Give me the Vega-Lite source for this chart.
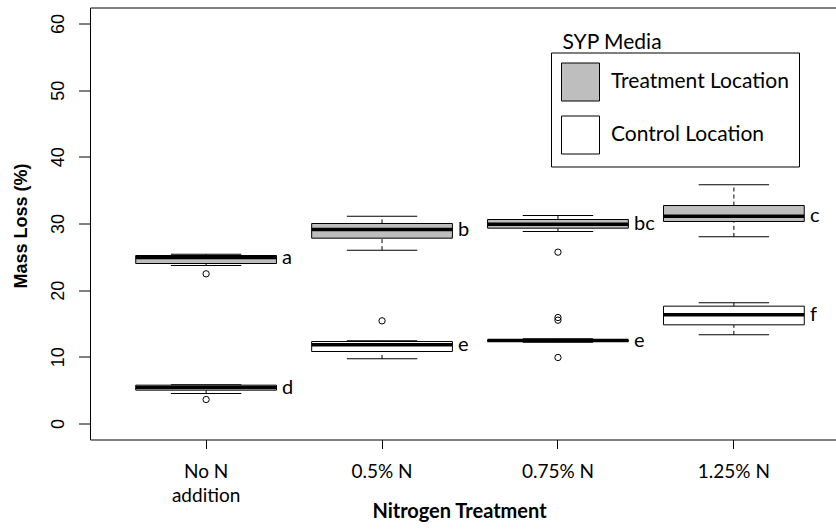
{
  "$schema": "https://vega.github.io/schema/vega-lite/v6.json",
  "autosize": "none",
  "width": 746,
  "height": 432,
  "padding": {"left": 90, "top": 7.5, "right": 0, "bottom": 89.5},
  "background": "white",
  "config": {
    "view": {"stroke": null},
    "axis": {"grid": false, "domainColor": "black", "tickColor": "black", "labelColor": "black", "titleColor": "black"}
  },
  "title": {
    "text": "SYP Media",
    "anchor": "start",
    "frame": "group",
    "orient": "top",
    "offset": 0,
    "dx": 472.5,
    "dy": 62.5,
    "baseline": "alphabetic",
    "font": "Lato",
    "fontSize": 21,
    "fontWeight": "normal",
    "color": "black"
  },
  "datasets": {
    "boxes": [
      {"treatment": "No N addition", "media": "Treatment Location", "lower": 23.7, "q1": 24.0, "median": 24.9, "q3": 25.2, "upper": 25.4, "letter": "a"},
      {"treatment": "0.5% N", "media": "Treatment Location", "lower": 26.0, "q1": 27.8, "median": 29.1, "q3": 30.0, "upper": 31.1, "letter": "b"},
      {"treatment": "0.75% N", "media": "Treatment Location", "lower": 28.8, "q1": 29.3, "median": 29.9, "q3": 30.6, "upper": 31.2, "letter": "bc"},
      {"treatment": "1.25% N", "media": "Treatment Location", "lower": 28.0, "q1": 30.3, "median": 31.1, "q3": 32.7, "upper": 35.8, "letter": "c"},
      {"treatment": "No N addition", "media": "Control Location", "lower": 4.5, "q1": 5.0, "median": 5.4, "q3": 5.75, "upper": 5.8, "letter": "d"},
      {"treatment": "0.5% N", "media": "Control Location", "lower": 9.7, "q1": 10.8, "median": 11.8, "q3": 12.3, "upper": 12.4, "letter": "e"},
      {"treatment": "0.75% N", "media": "Control Location", "lower": 12.2, "q1": 12.3, "median": 12.45, "q3": 12.55, "upper": 12.7, "letter": "e"},
      {"treatment": "1.25% N", "media": "Control Location", "lower": 13.3, "q1": 14.8, "median": 16.3, "q3": 17.6, "upper": 18.1, "letter": "f"}
    ],
    "outliers": [
      {"treatment": "No N addition", "media": "Treatment Location", "value": 22.45},
      {"treatment": "No N addition", "media": "Control Location", "value": 3.6},
      {"treatment": "0.5% N", "media": "Control Location", "value": 15.4},
      {"treatment": "0.75% N", "media": "Treatment Location", "value": 25.7},
      {"treatment": "0.75% N", "media": "Control Location", "value": 15.5},
      {"treatment": "0.75% N", "media": "Control Location", "value": 15.9},
      {"treatment": "0.75% N", "media": "Control Location", "value": 9.9}
    ]
  },
  "resolve": {"axis": {"x": "independent"}},
  "encoding": {
    "x": {
      "field": "treatment",
      "type": "nominal",
      "scale": {"domain": ["No N addition", "0.5% N", "0.75% N", "1.25% N"], "range": [0, 760], "paddingInner": 0.2, "paddingOuter": 0.26},
      "axis": null
    }
  },
  "layer": [
    {
      "data": {"name": "boxes"},
      "mark": {"type": "rule", "color": "black", "strokeWidth": 1, "strokeDash": [4, 3]},
      "encoding": {
        "x": {
          "field": "treatment",
          "type": "nominal",
          "axis": {"orient": "top", "labels": false, "ticks": false, "title": null, "domain": true, "domainColor": "black", "domainWidth": 1}
        },
        "y": {
          "field": "q3",
          "type": "quantitative",
          "scale": {"domain": [-2.4, 62.4], "nice": false, "zero": false},
          "axis": {
            "title": "Mass Loss (%)",
            "values": [0, 10, 20, 30, 40, 50, 60],
            "labelAngle": -90,
            "labelAlign": "center",
            "labelBaseline": "alphabetic",
            "labelFont": "Liberation Sans",
            "labelFontSize": 18,
            "labelPadding": 15,
            "tickSize": 11.5,
            "tickWidth": 1,
            "domainWidth": 1,
            "titleFont": "Liberation Sans",
            "titleFontSize": 18,
            "titleFontWeight": "bold",
            "titleAngle": 270,
            "titleAlign": "center",
            "titleBaseline": "alphabetic",
            "titleX": -63.5,
            "titleY": 218
          }
        },
        "y2": {"field": "upper"}
      }
    },
    {
      "data": {"name": "boxes"},
      "mark": {"type": "rule", "color": "black", "strokeWidth": 1, "strokeDash": [4, 3]},
      "encoding": {
        "y": {"field": "lower", "type": "quantitative"},
        "y2": {"field": "q1"}
      }
    },
    {
      "data": {"name": "boxes"},
      "mark": {"type": "tick", "color": "black", "size": 70.4, "thickness": 1, "opacity": 1},
      "encoding": {
        "y": {"field": "upper", "type": "quantitative"}
      }
    },
    {
      "data": {"name": "boxes"},
      "mark": {"type": "tick", "color": "black", "size": 70.4, "thickness": 1, "opacity": 1},
      "encoding": {
        "y": {"field": "lower", "type": "quantitative"}
      }
    },
    {
      "data": {"name": "boxes"},
      "mark": {"type": "bar", "stroke": "black", "strokeWidth": 1, "opacity": 1},
      "encoding": {
        "x": {
          "field": "treatment",
          "type": "nominal",
          "axis": {
            "orient": "bottom",
            "title": "Nitrogen Treatment",
            "labelAngle": 0,
            "labelExpr": "datum.label == 'No N addition' ? ['No N', 'addition'] : datum.label",
            "labelFont": "Lato",
            "labelFontSize": 19,
            "labelBaseline": "alphabetic",
            "labelLineHeight": 24,
            "labelPadding": 29,
            "tickSize": 9,
            "tickWidth": 1,
            "domainWidth": 1,
            "titleFont": "Lato",
            "titleFontSize": 20,
            "titleFontWeight": "bold",
            "titleX": 369,
            "titleY": 77.5,
            "titleAlign": "center",
            "titleBaseline": "alphabetic"
          }
        },
        "y": {"field": "q1", "type": "quantitative"},
        "y2": {"field": "q3"},
        "fill": {
          "field": "media",
          "type": "nominal",
          "scale": {"domain": ["Treatment Location", "Control Location"], "range": ["#bebebe", "#ffffff"]},
          "legend": {
            "orient": "none",
            "legendX": 461,
            "legendY": 45,
            "title": null,
            "symbolType": "square",
            "symbolSize": 1444,
            "symbolStrokeColor": "black",
            "symbolStrokeWidth": 1,
            "symbolOpacity": 1,
            "labelFont": "Lato",
            "labelFontSize": 21,
            "labelColor": "black",
            "labelOffset": 11,
            "labelLimit": 400,
            "rowPadding": 10,
            "padding": 10,
            "strokeColor": "black",
            "fillColor": "white"
          }
        }
      }
    },
    {
      "data": {"name": "boxes"},
      "mark": {"type": "tick", "color": "black", "size": 140.7, "thickness": 3.5, "opacity": 1},
      "encoding": {
        "y": {"field": "median", "type": "quantitative"}
      }
    },
    {
      "data": {"name": "outliers"},
      "mark": {"type": "point", "shape": "circle", "filled": false, "stroke": "black", "strokeWidth": 1, "size": 40, "opacity": 1},
      "encoding": {
        "y": {"field": "value", "type": "quantitative"}
      }
    },
    {
      "data": {"name": "boxes"},
      "mark": {"type": "text", "align": "left", "baseline": "middle", "dx": 76, "font": "Lato", "fontSize": 20, "color": "black"},
      "encoding": {
        "y": {"field": "median", "type": "quantitative"},
        "text": {"field": "letter"}
      }
    }
  ]
}
